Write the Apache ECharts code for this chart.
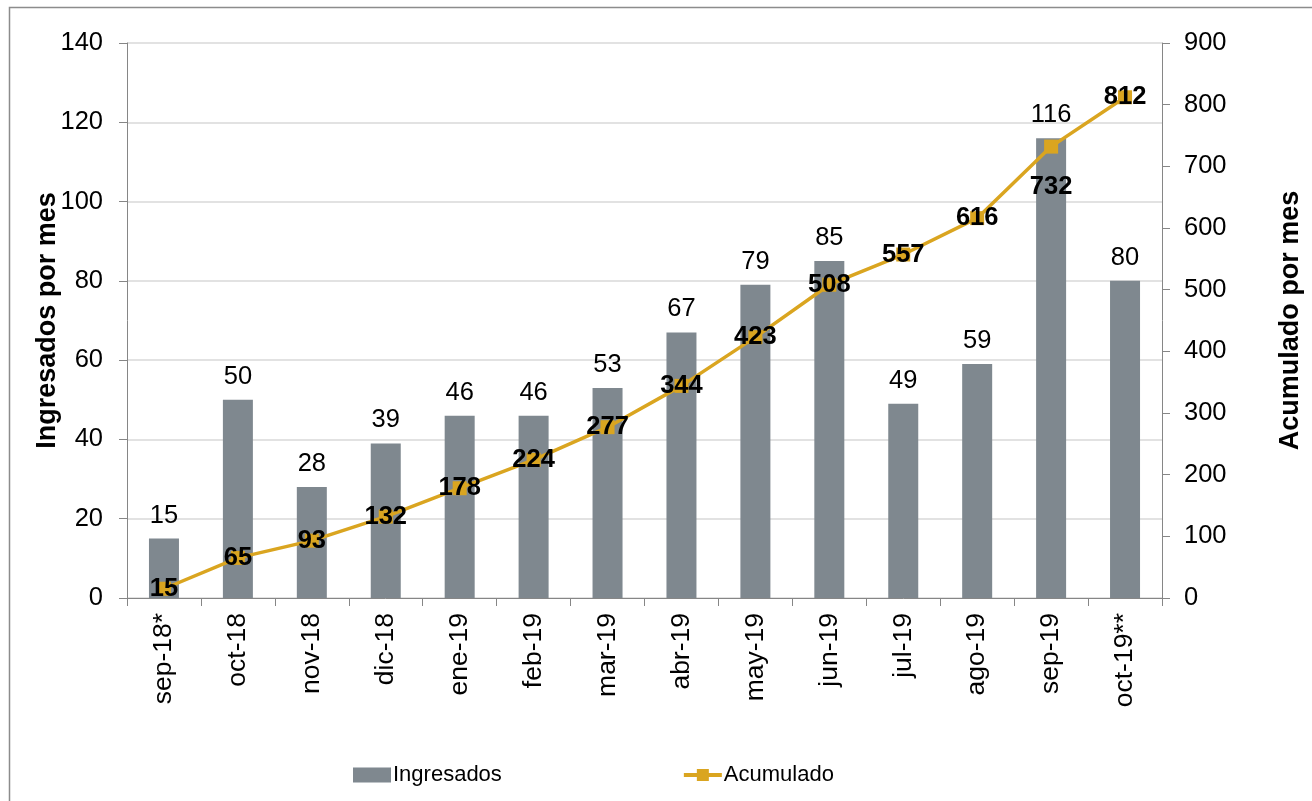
<!DOCTYPE html>
<html>
<head>
<meta charset="utf-8">
<script src="https://cdn.jsdelivr.net/npm/echarts@6/dist/echarts.min.js"></script>
<style>
html,body{margin:0;padding:0;background:#fff;}
#chart{width:1312px;height:801px;}
</style>
</head>
<body>
<div id="chart"></div>
<script>
var categories = ['sep-18*','oct-18','nov-18','dic-18','ene-19','feb-19','mar-19','abr-19','may-19','jun-19','jul-19','ago-19','sep-19','oct-19**'];
var ingresados = [15,50,28,39,46,46,53,67,79,85,49,59,116,80];
var acumulado = [15,65,93,132,178,224,277,344,423,508,557,616,732,812];
var leftTicks = {min:0, max:140, interval:20};
var rightTicks = {min:0, max:900, interval:100};

var FONT = "'Liberation Sans', Arial, sans-serif";
var chart = echarts.init(document.getElementById('chart'));

var lineData = acumulado.map(function(v, i){
  if (i === 12) return {value: v, label: {position: 'bottom', distance: 20}};
  return v;
});

chart.setOption({
  animation: false,
  backgroundColor: '#fff',
  textStyle: {fontFamily: FONT},
  graphic: [{
    type: 'rect', silent: true,
    shape: {x: 9.5, y: 7.5, width: 1400, height: 900},
    style: {fill: 'none', stroke: '#8c8c8c', lineWidth: 1.5}
  }],
  grid: {left: 127, right: 150, top: 43, bottom: 203, containLabel: false},
  legend: {
    left: 348, top: 759,
    itemGap: 180, itemWidth: 38, itemHeight: 15,
    textStyle: {fontSize: 22, color: '#000', fontFamily: FONT, padding: [0,0,0,-3]},
    data: [
      {name: 'Ingresados', icon: 'rect'},
      {name: 'Acumulado', lineStyle: {width: 4, color: '#daa520'}}
    ]
  },
  xAxis: {
    type: 'category', data: categories,
    axisLine: {lineStyle: {color: '#868686', width: 1}},
    axisTick: {show: true, length: 8, lineStyle: {color: '#868686'}, alignWithLabel: false},
    axisLabel: {rotate: 90, margin: 15, fontSize: 26.5, color: '#000', fontFamily: FONT, interval: 0}
  },
  yAxis: [{
    type: 'value', min: leftTicks.min, max: leftTicks.max, interval: leftTicks.interval,
    name: 'Ingresados por mes', nameLocation: 'middle', nameGap: 66, nameRotate: 90,
    nameMoveOverlap: false,
    nameTextStyle: {fontSize: 27, fontWeight: 'bold', color: '#000', fontFamily: FONT},
    axisLine: {show: true, lineStyle: {color: '#868686'}},
    axisTick: {show: true, length: 8, lineStyle: {color: '#868686'}},
    axisLabel: {margin: 24, fontSize: 25.5, color: '#000', fontFamily: FONT},
    splitLine: {show: true, lineStyle: {color: '#d9d9d9', width: 1.5}}
  }, {
    type: 'value', position: 'right', min: rightTicks.min, max: rightTicks.max, interval: rightTicks.interval,
    name: 'Acumulado por mes', nameLocation: 'middle', nameGap: 115, nameRotate: 90,
    nameMoveOverlap: false,
    nameTextStyle: {fontSize: 27, fontWeight: 'bold', color: '#000', fontFamily: FONT},
    axisLine: {show: true, lineStyle: {color: '#868686'}},
    axisTick: {show: true, length: 8, lineStyle: {color: '#868686'}},
    axisLabel: {margin: 22, fontSize: 25.5, color: '#000', fontFamily: FONT},
    splitLine: {show: false}
  }],
  series: [{
    name: 'Ingresados', type: 'bar', yAxisIndex: 0, data: ingresados,
    barWidth: 30,
    itemStyle: {color: '#7f888f'},
    label: {show: true, position: 'top', distance: 10, fontSize: 25.5, color: '#000', fontFamily: FONT}
  }, {
    name: 'Acumulado', type: 'line', yAxisIndex: 1, data: lineData,
    symbol: 'rect', symbolSize: 14,
    lineStyle: {color: '#daa520', width: 3.5},
    itemStyle: {color: '#daa520'},
    label: {show: true, position: 'inside', fontSize: 25.5, fontWeight: 'bold', color: '#000', fontFamily: FONT},
    z: 3
  }]
});
</script>
</body>
</html>
